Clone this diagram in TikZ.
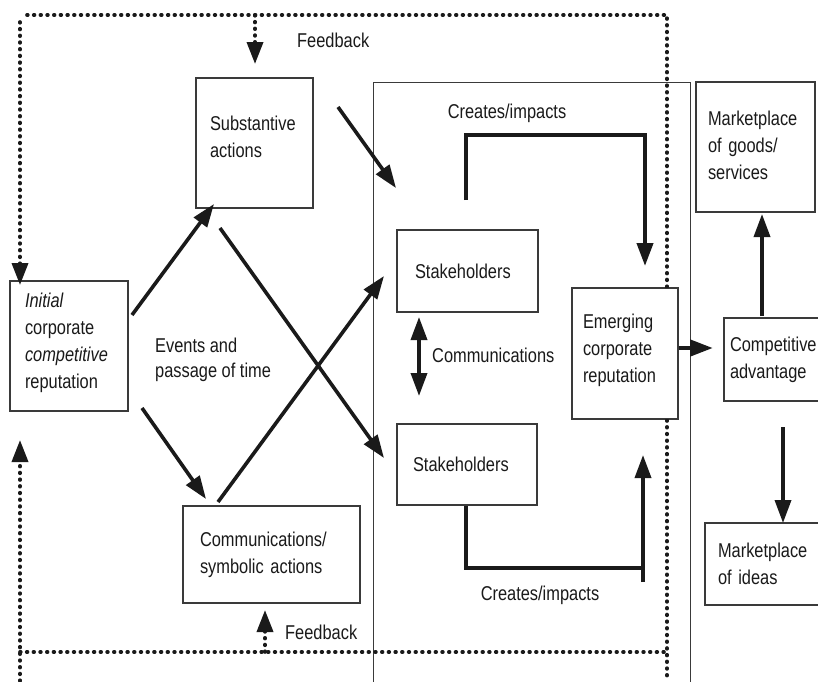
\documentclass[tikz,border=0pt]{standalone}
\usepackage{fontspec}
\setmainfont{Liberation Sans}[FakeStretch=0.82]
\usetikzlibrary{arrows.meta}
\definecolor{boxc}{HTML}{3A3A3A}
\definecolor{arrc}{HTML}{1A1A1A}
\tikzset{
  box/.style={draw=boxc, line width=1.2pt, align=left, inner ysep=0pt, text=arrc},
  tip/.tip={Triangle[length=23pt,width=16pt]},
  arr/.style={draw=arrc, line width=3.6pt, -tip},
  plain/.style={draw=arrc, line width=3.6pt},
  dots/.style={draw=arrc, line width=3.6pt, line cap=round, dash pattern=on 0.8pt off 5.9pt},
  dotarr/.style={dots, -{Triangle[length=22pt,width=16pt]}},
  lbl/.style={text=arrc, inner sep=0pt, align=left},
}
\begin{document}
\begin{tikzpicture}[x=1pt,y=-1pt, font=\fontsize{20}{27}\selectfont]
\useasboundingbox (0,0) rectangle (818,681);
\clip (0,0) rectangle (818,681);
\fill[white] (0,0) rectangle (818,681);

% big stakeholder region
\node[draw=boxc, line width=1pt, minimum width=317pt, minimum height=620pt, inner sep=0pt, anchor=north west] (region) at (373,82) {};

% boxes
\node[box, minimum width=117pt, minimum height=130pt, inner xsep=14pt, text width=89pt] (subst) at (254.5,143) {Substantive\\actions\vspace{12pt}};
\node[box, minimum width=118pt, minimum height=130pt, inner xsep=15pt, text width=88pt] (init) at (69,346) {{\itshape Initial}\\corporate\\{\itshape competitive}\\reputation\vspace{6pt}};
\node[box, minimum width=177pt, minimum height=97pt, inner xsep=17pt, text width=143pt] (comm) at (271.5,554.5) {Communications/\\symbolic actions};
\node[box, minimum width=141pt, minimum height=82pt, inner xsep=18pt, text width=105pt] (stakeA) at (467.5,271) {Stakeholders};
\node[box, minimum width=140pt, minimum height=81pt, inner xsep=16pt, text width=108pt] (stakeB) at (467,464.5) {Stakeholders};
\node[box, fill=white, minimum width=106pt, minimum height=131pt, inner xsep=11pt, text width=84pt] (emerg) at (625,353.5) {Emerging\\corporate\\reputation\vspace{6pt}};
\node[box, minimum width=119pt, minimum height=130pt, inner xsep=12pt, text width=95pt] (goods) at (755.5,147) {Marketplace\\of goods/\\services\vspace{4pt}};
\node[box, minimum width=106pt, minimum height=83pt, inner xsep=6pt, text width=94pt] (compadv) at (777,359.5) {Competitive\\advantage};
\node[box, minimum width=125pt, minimum height=82pt, inner xsep=13pt, text width=99pt] (ideas) at (767.5,564) {Marketplace\\of ideas};

% labels
\node[lbl, anchor=west] (fbtop) at (297,40) {Feedback};
\node[lbl, anchor=west] (fbbot) at (285,632) {Feedback};
\node[lbl] (ciTop) at (507,113) {Creates/impacts};
\node[lbl] (ciBot) at (540,595) {Creates/impacts};
\node[lbl, anchor=west] (commlbl) at (432,355) {Communications};
\node[lbl, anchor=west, font=\fontsize{20}{25}\selectfont] (events) at (155,360) {Events and\\passage of time};

% feedback loop coordinates
\coordinate (tl) at (20,15);
\coordinate (tr) at (667,15);
\coordinate (rb) at (667,681);
\coordinate (initIn) at (20,285);
\coordinate (fbTopSrc) at (255,15);
\coordinate (fbTopTip) at (255,64);
\coordinate (bl) at (20,681);
\coordinate (blTip) at (20,440);
\coordinate (bcorner) at (20,652);
\coordinate (bright) at (667,652);
\coordinate (fbBotSrc) at (265,652);
\coordinate (fbBotTip) at (265,610);

\begin{scope}
\clip (0,0) rectangle (572,681) (678,0) rectangle (818,681) (572,0) rectangle (678,288) (572,419) rectangle (678,681);
\draw[dots] (tl) ++(7,0) -- (tr) -- (rb);
\end{scope}
\draw[dotarr] (20,22) -- (initIn);
\draw[dotarr] (fbTopSrc) -- (fbTopTip);
\draw[dotarr] (bl) -- (blTip);
\draw[dots] (bcorner) -- (bright);
\draw[dotarr] (fbBotSrc) -- (fbBotTip);

% main arrows
\coordinate (a1s) at (132,315); \coordinate (a1e) at (214,204);
\coordinate (a2s) at (142,408); \coordinate (a2e) at (206,499);
\coordinate (a3s) at (220,228); \coordinate (a3e) at (384,458);
\coordinate (a4s) at (218,502); \coordinate (a4e) at (384,276);
\coordinate (a5s) at (338,107); \coordinate (a5e) at (396,188);
\draw[arr] (a1s) -- (a1e);
\draw[arr] (a2s) -- (a2e);
\draw[arr] (a3s) -- (a3e);
\draw[arr] (a4s) -- (a4e);
\draw[arr] (a5s) -- (a5e);

% creates/impacts
\coordinate (t1) at (466,200); \coordinate (t2) at (466,135); \coordinate (t3) at (645,135); \coordinate (t4) at (645,266);
\draw[arr, line width=4pt, line join=miter] (t1) -- (t2) -- (t3) -- (t4);
\coordinate (b1) at (466,506); \coordinate (b2) at (466,568); \coordinate (b3) at (643,568);
\coordinate (b4) at (643,582); \coordinate (b5) at (643,455);
\draw[plain, line width=4pt, line join=miter] (b1) -- (b2) -- (b3);
\draw[arr] (b4) -- (b5);

% communications double arrow
\coordinate (c1) at (419,317); \coordinate (c2) at (419,396);
\draw[arr, tip-tip] (c1) -- (c2);

% right side arrows
\coordinate (e1) at (713,348);
\draw[arr, line width=4.5pt] (emerg.east |- e1) -- (e1);
\coordinate (g1) at (762,316); \coordinate (g2) at (762,214);
\draw[arr] (g1) -- (g2);
\coordinate (i1) at (783,427); \coordinate (i2) at (783,523);
\draw[arr] (i1) -- (i2);
\end{tikzpicture}
\end{document}
